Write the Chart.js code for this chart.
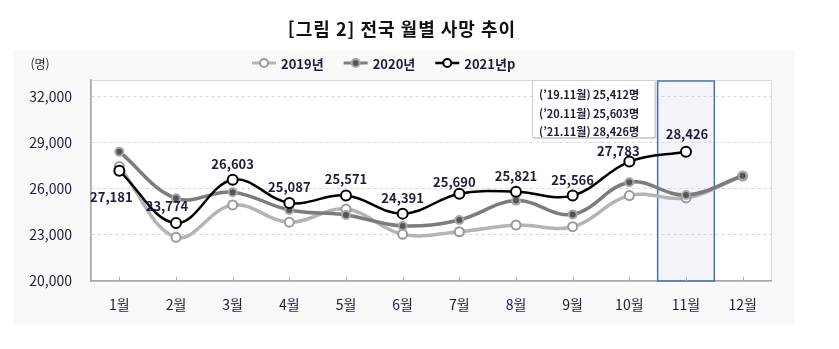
<!DOCTYPE html>
<html lang="ko">
<head>
<meta charset="utf-8">
<script src="https://cdn.jsdelivr.net/npm/chart.js@4.4.1/dist/chart.umd.min.js"></script>
<style>
  html, body { margin: 0; padding: 0; background: #fff; }
  #wrap { width: 839px; height: 349px; }
</style>
</head>
<body>
<div id="wrap"><canvas id="deathChart" width="839" height="349"></canvas></div>
<script>
// 1. DATA
// ------------------------------------------------------------------
const months = ['1월', '2월', '3월', '4월', '5월', '6월', '7월', '8월', '9월', '10월', '11월', '12월'];
const deaths2019 = [27460, 22850, 24960, 23830, 24690, 23040, 23210, 23650, 23540, 25570, 25412, 26840];
const deaths2020 = [28430, 25390, 25790, 24630, 24300, 23590, 23980, 25240, 24340, 26440, 25603, 26860];
const deaths2021 = [27181, 23774, 26603, 25087, 25571, 24391, 25690, 25821, 25566, 27783, 28426, null];
const seriesNames = ['2019년', '2020년', '2021년p'];
const seriesYears = ['19', '20', '21'];
const yTicks = [20000, 23000, 26000, 29000, 32000];
const titleText = '[그림 2] 전국 월별 사망 추이';
const unitText = '(명)';
const focusIndex = 10; // 11월

// 2. STYLE
// ------------------------------------------------------------------
const FONT = "'Noto Sans CJK KR', 'Noto Sans', sans-serif";
const INK = '#1d1d3b';
const styles = [
    { line: '#b4b4b4', width: 3.5, fill: '#ffffff', stroke: '#9a9a9a', r: 4.5 },
    { line: '#7c7c7c', width: 3.5, fill: '#555555', stroke: '#a8a8a8', r: 4 },
    { line: '#000000', width: 2.5, fill: '#ffffff', stroke: '#000000', r: 5 }
];
// label nudges for the 2021 values (default: 16px above)
const labelNudge = { 0: [-8, 26], 1: [-9, -17], 6: [-5, -12], 9: [-11, -11], 10: [1, -18] };

function drawMarker(ctx, s, x, y) {
    ctx.beginPath();
    ctx.arc(x, y, s.r, 0, Math.PI * 2);
    ctx.fillStyle = s.fill;
    ctx.fill();
    ctx.lineWidth = 2;
    ctx.strokeStyle = s.stroke;
    ctx.stroke();
}

// 3. PLUGINS
// ------------------------------------------------------------------
const backdrop = {
    id: 'backdrop',
    beforeDraw(chart) {
        const { ctx, chartArea: a, scales: { x } } = chart;
        ctx.save();
        ctx.fillStyle = '#f9f9f9';
        ctx.fillRect(13, 50, 782, 275);
        ctx.fillStyle = '#ffffff';
        ctx.fillRect(a.left, a.top, a.right - a.left, a.bottom - a.top);
        // 11월 highlight
        const half = (x.getPixelForValue(1) - x.getPixelForValue(0)) / 2;
        const cx = x.getPixelForValue(focusIndex);
        ctx.fillStyle = '#f4f5fa';
        ctx.fillRect(cx - half, a.top + 1, half * 2, a.bottom - a.top - 1);
        // frame
        ctx.strokeStyle = '#dcdcdc';
        ctx.lineWidth = 1;
        ctx.strokeRect(a.left + 0.5, a.top + 0.5, a.right - a.left, a.bottom - a.top);
        ctx.restore();
    },
    beforeDatasetsDraw(chart) {
        const { ctx, chartArea: a, scales: { x } } = chart;
        const half = (x.getPixelForValue(1) - x.getPixelForValue(0)) / 2;
        const cx = x.getPixelForValue(focusIndex);
        ctx.save();
        ctx.strokeStyle = '#4a74b0';
        ctx.lineWidth = 1.5;
        ctx.strokeRect(cx - half, a.top + 1, half * 2, a.bottom - a.top - 1);
        // small inward ticks on x axis
        ctx.strokeStyle = '#b0b0b0';
        ctx.lineWidth = 1;
        months.forEach((m, i) => {
            const px = Math.round(x.getPixelForValue(i)) + 0.5;
            ctx.beginPath();
            ctx.moveTo(px, a.bottom);
            ctx.lineTo(px, a.bottom - 4);
            ctx.stroke();
        });
        ctx.restore();
    }
};

const overlays = {
    id: 'overlays',
    afterDatasetsDraw(chart) {
        const { ctx, chartArea: a, scales: { x } } = chart;
        ctx.save();

        // value labels for 2021
        const meta = chart.getDatasetMeta(0);
        ctx.font = `bold 13px ${FONT}`;
        ctx.fillStyle = INK;
        ctx.textAlign = 'center';
        ctx.textBaseline = 'middle';
        meta.data.forEach((pt, i) => {
            const v = deaths2021[i];
            if (v == null) return;
            const [dx, dy] = labelNudge[i] || [0, -16];
            ctx.fillText(v.toLocaleString('en-US'), pt.x + dx, pt.y + dy);
        });

        // title
        ctx.font = `bold 18px ${FONT}`;
        ctx.letterSpacing = '1px';
        ctx.fillStyle = '#111';
        ctx.fillText(titleText, 402, 29);
        ctx.letterSpacing = '0px';

        // unit
        ctx.font = `12px ${FONT}`;
        ctx.fillStyle = INK;
        ctx.fillText(unitText, 40, 64);

        // legend
        ctx.font = `bold 13px ${FONT}`;
        ctx.textAlign = 'left';
        let lx = 252;
        const ly = 63;
        seriesNames.forEach((name, i) => {
            const s = styles[i];
            ctx.strokeStyle = s.line;
            ctx.lineWidth = i === 2 ? 2.5 : 3;
            ctx.beginPath();
            ctx.moveTo(lx, ly);
            ctx.lineTo(lx + 24, ly);
            ctx.stroke();
            drawMarker(ctx, { ...s, r: 4 }, lx + 12, ly);
            ctx.fillStyle = INK;
            ctx.fillText(name, lx + 29, ly + 1);
            lx += 29 + ctx.measureText(name).width + 20;
        });

        // 11월 callout box
        const half = (x.getPixelForValue(1) - x.getPixelForValue(0)) / 2;
        const bx1 = x.getPixelForValue(focusIndex) - half - 3;
        const bx0 = 532, by0 = a.top, by1 = 137;
        ctx.fillStyle = '#d4d4d4';
        ctx.fillRect(bx0 + 2, by0 + 2, bx1 - bx0, by1 - by0);
        ctx.fillStyle = '#ffffff';
        ctx.fillRect(bx0, by0, bx1 - bx0, by1 - by0);
        ctx.strokeStyle = '#cfcfcf';
        ctx.lineWidth = 1;
        ctx.strokeRect(bx0 + 0.5, by0 + 0.5, bx1 - bx0, by1 - by0);
        const vals = [deaths2019, deaths2020, deaths2021].map(d => d[focusIndex]);
        ctx.font = `bold 11px ${FONT}`;
        ctx.fillStyle = INK;
        vals.forEach((v, i) => {
            ctx.fillText(`(\u2019${seriesYears[i]}.${months[focusIndex]}) ${v.toLocaleString('en-US')}명`, bx0 + 7, 95 + i * 18.5);
        });

        ctx.restore();
    }
};

// 4. CHART
// ------------------------------------------------------------------
const ctx = document.getElementById('deathChart').getContext('2d');

const mkSet = (label, data, s, order) => ({
    label, data, order,
    borderColor: s.line,
    borderWidth: s.width,
    pointRadius: s.r,
    pointBorderWidth: 2,
    pointBackgroundColor: s.fill,
    pointBorderColor: s.stroke,
    tension: 0.38,
    spanGaps: false
});

new Chart(ctx, {
    type: 'line',
    data: {
        labels: months,
        datasets: [
            mkSet(seriesNames[2], deaths2021, styles[2], 0),
            mkSet(seriesNames[1], deaths2020, styles[1], 1),
            mkSet(seriesNames[0], deaths2019, styles[0], 2)
        ]
    },
    options: {
        responsive: false,
        animation: false,
        layout: { padding: { top: 80, right: 68, bottom: 0, left: 0 } },
        plugins: {
            legend: { display: false },
            title: { display: false },
            tooltip: { enabled: false }
        },
        scales: {
            x: {
                offset: true,
                grid: { display: false, drawTicks: false },
                border: { display: true, color: '#a6a6a6', width: 1.5 },
                ticks: { color: INK, font: { family: FONT, size: 14 }, padding: 15 },
                afterFit: (s) => { s.height = 68; }
            },
            y: {
                min: 20000,
                max: 33100,
                afterBuildTicks: (s) => { s.ticks = yTicks.map(v => ({ value: v })); },
                grid: { color: '#d6d6d6', drawTicks: false },
                border: { display: true, color: '#a6a6a6', width: 1.5, dash: [3, 3] },
                ticks: {
                    color: INK,
                    font: { family: FONT, size: 14 },
                    padding: 19,
                    callback: (v) => v.toLocaleString('en-US')
                },
                afterFit: (s) => { s.width = 91; }
            }
        }
    },
    plugins: [backdrop, overlays]
});
</script>
</body>
</html>
